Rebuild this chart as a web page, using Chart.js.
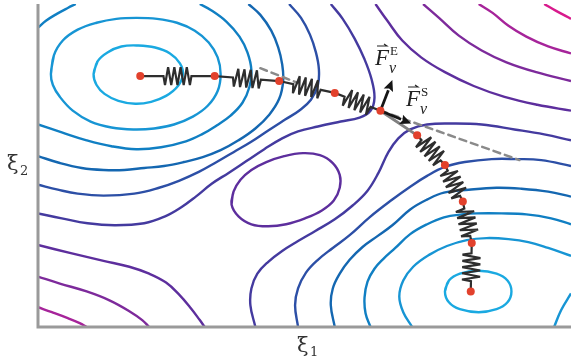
<!DOCTYPE html>
<html lang="en">
<head>
<meta charset="UTF-8">
<title>Nudged elastic band on a contour map</title>
<script src="https://cdn.jsdelivr.net/npm/chart.js"></script>
<style>
    body { margin: 0; background: #fff; }
    #wrap { width: 575px; height: 362px; }
</style>
</head>
<body>
<div id="wrap"><canvas id="nebChart"></canvas></div>
<script>
// contour lines: [xi1, xi2] pairs (xi2 grows downwards here)
// basin A (top left)
const ringA1 = [[94,71],[98,58],[108,49],[122,43],[139,42],[156,44],[171,50],[181,60],[184,71],[179,83],[167,93],[152,99],[136,101],[119,98],[105,91],[97,82],[94,71],[98,58]];
const ringA2 = [[51,71],[54,52],[63,37],[78,26],[97,19],[117,15],[137,14],[158,15],[178,19],[196,27],[210,39],[219,54],[222,71],[219,88],[209,103],[194,114],[175,122],[155,126],[134,127],[112,125],[91,119],[73,108],[60,94],[53,82],[51,71],[54,52]];
const levelA3 = [[201,0],[212,6],[228,18],[241,33],[249,49],[253,67],[251,84],[244,100],[232,113],[218,123],[203,132],[187,139],[162,145],[137,147],[112,144],[87,138],[62,130],[38,122]];
const cornerA3 = [[38,24],[46,17],[57,10],[68,4],[76,0]];
const levelA4 = [[250,0],[262,11],[273,27],[280,44],[284,61],[285,78],[281,96],[271,112],[257,126],[240,138],[222,148],[204,155],[185,160],[165,164],[145,166],[125,168],[104,168],[82,166],[60,161],[38,154]];
const levelA5 = [[291,0],[303,14],[312,31],[318,49],[321,66],[320,82],[313,97],[301,108],[287,117],[270,128],[252,140],[235,150],[218,160],[200,170],[180,179],[160,186],[135,192],[104,194],[78,192],[58,188],[38,183]];
const saddleA6 = [[333,0],[345,15],[357,35],[367,56],[374,76],[377,95],[373,108],[362,115],[343,119],[320,124],[300,129],[284,136],[266,147],[248,159],[230,171],[213,182],[197,195],[182,206],[166,215],[145,222],[115,224],[88,222],[62,217],[38,212]];
// basin B (bottom right)
const saddleB6 = [[257,327],[252,305],[253,288],[259,273],[270,261],[284,250],[300,240],[317,230],[337,218],[355,204],[370,189],[381,171],[391,150],[401,136],[413,127],[430,122],[455,121],[485,122],[518,127],[548,132],[575,138]];
const levelB5 = [[300,327],[297,305],[300,288],[308,272],[320,259],[335,247],[352,234],[372,216],[395,198],[413,185],[430,174],[448,165],[468,160],[495,157],[520,157],[545,158],[575,164]];
const levelB4 = [[337,327],[333,305],[335,288],[342,273],[352,259],[365,246],[380,235],[395,224],[413,208],[430,198],[447,191],[472,188],[500,186],[525,187],[552,190],[575,195]];
const levelB3 = [[373,327],[368,313],[367,297],[370,281],[377,268],[386,258],[398,247],[413,233],[430,223],[447,216],[465,213],[480,212],[505,212],[530,213],[555,217],[575,223]];
const ringB2 = [[415,327],[406,312],[402,296],[406,280],[416,266],[432,254],[450,245],[470,239],[490,237],[512,238],[532,241],[552,247],[575,255]];
const ringB2tail = [[575,293],[565,310],[558,327]];
const ringB1 = [[448,291],[452,280],[463,273],[482,270],[500,273],[511,280],[515,291],[511,302],[500,309],[482,312],[463,309],[452,302],[448,291],[452,280]];
// hill in the middle and the high corners
const hill = [[233,203],[235,190],[242,178],[253,168],[268,160],[286,154],[305,151],[322,153],[335,161],[342,173],[342,186],[336,199],[324,209],[307,217],[288,223],[270,225],[253,223],[240,215],[233,203],[235,190]];
const lowLeft7 = [[38,244],[70,252],[104,260],[130,266],[150,273],[167,282],[180,294],[192,308],[201,320],[206,327]];
const lowLeft8 = [[38,276],[60,283],[87,291],[110,300],[130,311],[143,320],[150,327]];
const lowLeft9 = [[38,307],[52,312],[68,318],[80,323],[87,327]];
const topRight7 = [[378,0],[390,17],[405,37],[424,54],[448,69],[477,83],[508,94],[541,102],[575,108]];
const topRight8 = [[426,0],[442,14],[462,32],[485,47],[510,59],[540,69],[575,78]];
const topRight9 = [[482,0],[496,9],[512,22],[530,33],[552,43],[575,50]];
const topRight10 = [[548,0],[560,7],[575,15]];

const levelColors = ['#1aa9e1', '#1795d4', '#107fc3', '#1467b1', '#2c4fa6', '#443a9f', '#5d2e9d', '#7d2a9b', '#a6249a', '#d81a8c'];

const contours = [
    [ringA1, 1], [ringA2, 2], [levelA3, 3], [cornerA3, 3], [levelA4, 4], [levelA5, 5], [saddleA6, 6],
    [saddleB6, 6], [levelB5, 5], [levelB4, 4], [levelB3, 3], [ringB2, 2], [ringB2tail, 2], [ringB1, 1],
    [hill, 7], [lowLeft7, 7], [lowLeft8, 8], [lowLeft9, 9],
    [topRight7, 7], [topRight8, 8], [topRight9, 9], [topRight10, 10]
];

// images of the band
const beadX = [141, 216, 281, 337, 383, 420, 448, 466, 475, 474];
const beadY = [73, 73, 78, 90, 108, 133, 163, 200, 242, 291];
const plainLink = 4; // bead 4 -> 5 drawn without a spring

// tangent guides and force arrows at the climbing image
const tangentA = [[262, 65], [300, 80]];
const tangentB = [[383, 108], [523, 158]];
const forceE = [[383, 108], [395, 77]];
const forceS = [[383, 108], [414, 121]];

const datasets = [{
    data: beadX.map((x, i) => ({ x: x, y: beadY[i] })),
    showLine: false,
    pointRadius: 4,
    pointBackgroundColor: '#e2412c',
    pointBorderWidth: 0
}];
contours.forEach(c => {
    datasets.push({
        data: c[0].map(p => ({ x: p[0], y: p[1] })),
        showLine: true,
        borderColor: levelColors[c[1] - 1],
        borderWidth: 2.4,
        pointRadius: 0,
        tension: 0.4,
        fill: false
    });
});

function drawSpring(ctx, ax, ay, bx, by) {
    const dx = bx - ax, dy = by - ay, len = Math.hypot(dx, dy);
    const ux = dx / len, uy = dy / len, nx = -uy, ny = ux;
    const half = 14, amp = 9, teeth = 9;
    const cx = (ax + bx) / 2, cy = (ay + by) / 2;
    ctx.beginPath();
    ctx.moveTo(ax, ay);
    ctx.lineTo(cx - ux * half, cy - uy * half);
    for (let k = 0; k < teeth; k++) {
        const t = -half + (k + 0.5) * (2 * half / teeth);
        const s = k % 2 === 0 ? amp : -amp;
        ctx.lineTo(cx + ux * t + nx * s, cy + uy * t + ny * s);
    }
    ctx.lineTo(cx + ux * half, cy + uy * half);
    ctx.lineTo(bx, by);
    ctx.stroke();
}

function drawArrow(ctx, x0, y0, x1, y1) {
    const a = Math.atan2(y1 - y0, x1 - x0), head = 11, w = 5;
    const bx = x1 - head * Math.cos(a), by = y1 - head * Math.sin(a);
    ctx.beginPath();
    ctx.moveTo(x0, y0);
    ctx.lineTo(bx, by);
    ctx.stroke();
    ctx.beginPath();
    ctx.moveTo(x1, y1);
    ctx.lineTo(bx - w * Math.sin(a), by + w * Math.cos(a));
    ctx.lineTo(bx + 2 * Math.cos(a), by + 2 * Math.sin(a));
    ctx.lineTo(bx + w * Math.sin(a), by - w * Math.cos(a));
    ctx.closePath();
    ctx.fill();
}

// F with a small vector arrow, superscript and subscript
function forceLabel(ctx, x, y, sup) {
    ctx.fillStyle = '#222';
    ctx.font = 'italic 23px "Liberation Serif"';
    ctx.fillText('F', x, y);
    ctx.strokeStyle = '#222';
    ctx.lineWidth = 1.1;
    ctx.beginPath();
    ctx.moveTo(x + 2, y - 19);
    ctx.lineTo(x + 12, y - 19);
    ctx.lineTo(x + 9, y - 21);
    ctx.stroke();
    ctx.font = '13px "Liberation Serif"';
    ctx.fillText(sup, x + 15, y - 10);
    ctx.font = 'italic 16px "Liberation Serif"';
    ctx.fillText('\u03bd', x + 14, y + 8);
}

const nebPlugin = {
    id: 'neb',
    beforeDatasetDraw(chart, args) {
        if (args.index !== 0) return;
        const ctx = chart.ctx, xs = chart.scales.x, ys = chart.scales.y;
        const px = v => xs.getPixelForValue(v), py = v => ys.getPixelForValue(v);
        ctx.save();
        ctx.lineCap = 'round';
        ctx.lineJoin = 'miter';
        ctx.miterLimit = 3;
        // dashed tangents
        ctx.strokeStyle = '#8a8a8a';
        ctx.lineWidth = 2.5;
        ctx.setLineDash([7, 5]);
        [tangentA, tangentB].forEach(t => {
            ctx.beginPath();
            ctx.moveTo(px(t[0][0]), py(t[0][1]));
            ctx.lineTo(px(t[1][0]), py(t[1][1]));
            ctx.stroke();
        });
        ctx.setLineDash([]);
        // links and springs
        for (let i = 0; i < beadX.length - 1; i++) {
            const ax = px(beadX[i]), ay = py(beadY[i]), bx = px(beadX[i + 1]), by = py(beadY[i + 1]);
            if (i === plainLink) {
                ctx.strokeStyle = '#808080';
                ctx.lineWidth = 3;
                ctx.beginPath();
                ctx.moveTo(ax, ay);
                ctx.lineTo(bx, by);
                ctx.stroke();
            } else {
                ctx.strokeStyle = '#2e2e2e';
                ctx.lineWidth = 2.2;
                drawSpring(ctx, ax, ay, bx, by);
            }
        }
        // forces
        ctx.strokeStyle = '#151515';
        ctx.fillStyle = '#151515';
        ctx.lineWidth = 2.8;
        ctx.lineCap = 'butt';
        [forceE, forceS].forEach(f => drawArrow(ctx, px(f[0][0]), py(f[0][1]), px(f[1][0]), py(f[1][1])));
        ctx.restore();
    },
    afterDraw(chart) {
        const ctx = chart.ctx, area = chart.chartArea;
        ctx.save();
        ctx.strokeStyle = '#9a9a9a';
        ctx.lineWidth = 3;
        ctx.beginPath();
        ctx.moveTo(area.left, area.top);
        ctx.lineTo(area.left, area.bottom);
        ctx.lineTo(area.right, area.bottom);
        ctx.stroke();
        forceLabel(ctx, 375, 65, 'E');
        forceLabel(ctx, 406, 106, 'S');
        ctx.fillStyle = '#333';
        ctx.font = '21px "DejaVu Serif"';
        ctx.fillText('\u03be', 297, 352);
        ctx.fillText('\u03be', 7, 170);
        ctx.font = '13px "DejaVu Serif"';
        ctx.fillText('1', 310, 356);
        ctx.fillText('2', 20, 175);
        ctx.restore();
    }
};

new Chart(document.getElementById('nebChart'), {
    type: 'scatter',
    data: { datasets: datasets },
    options: {
        responsive: true,
        maintainAspectRatio: false,
        animation: false,
        events: [],
        layout: { padding: { left: 38, right: 0, top: 0, bottom: 35 } },
        plugins: { legend: { display: false }, tooltip: { enabled: false } },
        scales: {
            x: { type: 'linear', min: 38, max: 575, display: false },
            y: { type: 'linear', min: 0, max: 327, reverse: true, display: false }
        }
    },
    plugins: [nebPlugin]
});
</script>
</body>
</html>
